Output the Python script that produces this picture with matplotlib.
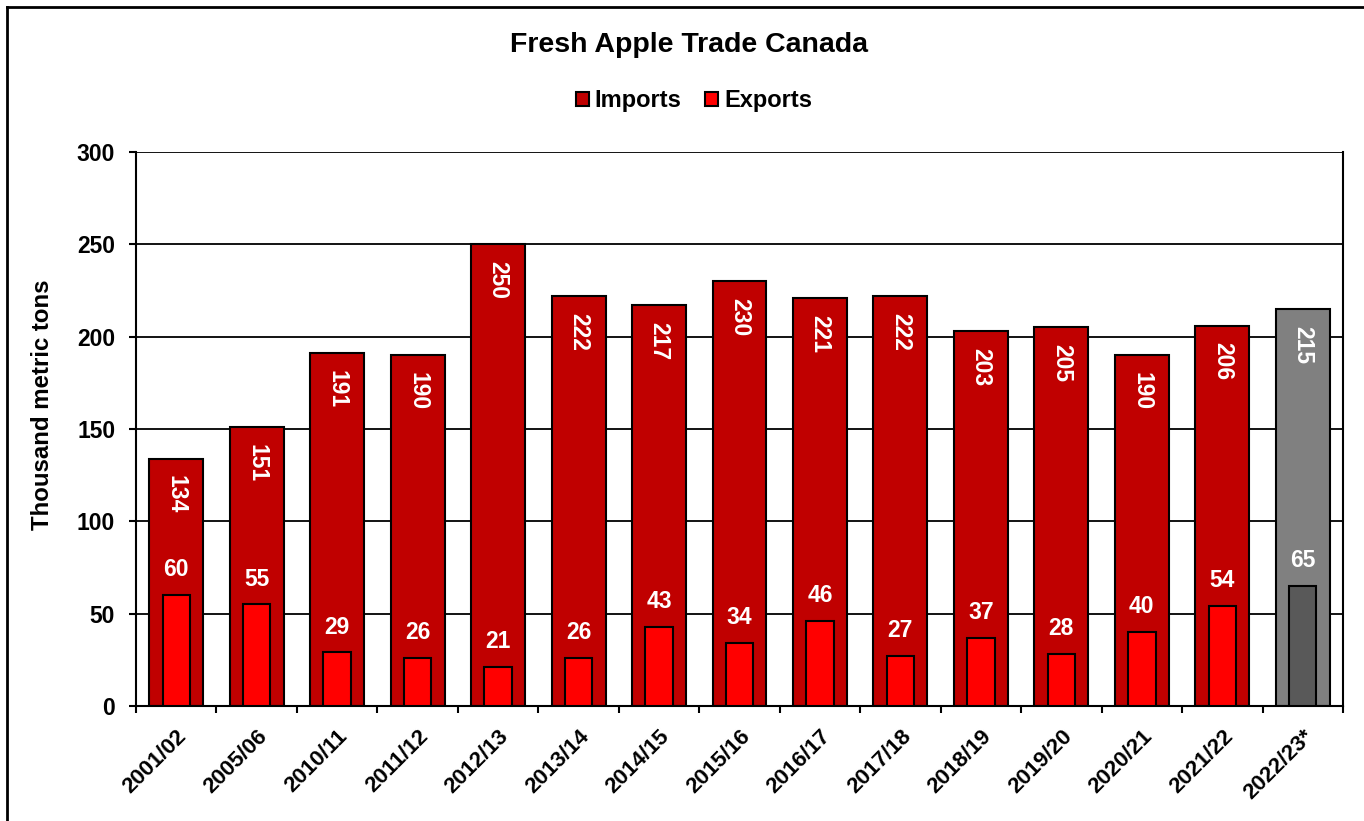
import numpy as np
import matplotlib.pyplot as plt
from matplotlib.patches import Rectangle
from matplotlib.lines import Line2D

plt.rcParams['font.family'] = ['Liberation Sans', 'DejaVu Sans']
plt.rcParams['font.weight'] = 'bold'

years = ['2001/02', '2005/06', '2010/11', '2011/12', '2012/13', '2013/14', '2014/15',
         '2015/16', '2016/17', '2017/18', '2018/19', '2019/20', '2020/21', '2021/22',
         '2022/23*']
imports = [134, 151, 191, 190, 250, 222, 217, 230, 221, 222, 203, 205, 190, 206, 215]
exports = [60, 55, 29, 26, 21, 26, 43, 34, 46, 27, 37, 28, 40, 54, 65]

# last season is a forecast, drawn in greys
imp_colors = ['#C00000'] * 14 + ['#808080']
exp_colors = ['#FF0000'] * 14 + ['#595959']

fig = plt.figure(figsize=(13.64, 8.21), dpi=100)
ax = fig.add_axes([136 / 1364, 1 - 706 / 821, (1343 - 136) / 1364, (706 - 152) / 821])

x = np.arange(len(years))
ax.bar(x, imports, width=0.67, color=imp_colors, edgecolor='black', linewidth=1.5, zorder=2)
ax.bar(x, exports, width=0.34, color=exp_colors, edgecolor='black', linewidth=1.5, zorder=3)

for i in range(len(years)):
    ax.annotate(str(imports[i]), (x[i], imports[i]), xytext=(0, -12), textcoords='offset points',
                ha='center', va='top', rotation=270, color='white', fontsize=16.5,
                fontweight='bold', zorder=4)
    ax.annotate(str(exports[i]), (x[i], exports[i]), xytext=(0, 10), textcoords='offset points',
                ha='center', va='bottom', color='white', fontsize=16.5,
                fontweight='bold', zorder=4)

ax.set_xlim(-0.5, len(years) - 0.5)
ax.set_ylim(0, 300)
ax.set_yticks(range(0, 301, 50))
ax.yaxis.grid(True, color='black', linewidth=1.3, zorder=0)
ax.set_axisbelow(True)
for s in ax.spines.values():
    s.set_linewidth(1.5)
ax.spines['top'].set_visible(False)

ax.set_xticks(x)
ax.set_xticklabels(years, rotation=45, ha='right', rotation_mode='anchor', fontsize=16)
ax.tick_params(axis='x', length=0, pad=14)
ax.set_xticks(np.arange(-0.5, len(years), 1), minor=True)
ax.tick_params(axis='x', which='minor', length=5, width=1.5, direction='out')
ax.tick_params(axis='y', labelsize=16.5, length=5, width=1.5, direction='out', pad=10)
ax.set_ylabel('Thousand metric tons', fontsize=17.3, fontweight='bold')
ax.yaxis.set_label_coords(-0.068, 0.543)

fig.text(689 / 1364, 1 - 45 / 821, 'Fresh Apple Trade Canada', ha='center', va='center',
         fontsize=20.5, fontweight='bold')

handles = [Rectangle((0, 0), 1, 1, facecolor='#C00000', edgecolor='black', linewidth=1.5),
           Rectangle((0, 0), 1, 1, facecolor='#FF0000', edgecolor='black', linewidth=1.5)]
fig.legend(handles, ['Imports', 'Exports'], loc='center', bbox_to_anchor=(694 / 1364, 1 - 101 / 821),
           ncol=2, frameon=False, fontsize=17, handlelength=0.55, handleheight=0.55,
           handletextpad=0.25, columnspacing=1.0, borderpad=0)

# frame around the whole chart
fig.add_artist(Line2D([7 / 1364, 7 / 1364], [0, 1 - 7 / 821], transform=fig.transFigure,
                      color='black', linewidth=2))
fig.add_artist(Line2D([7 / 1364, 1], [1 - 7 / 821, 1 - 7 / 821], transform=fig.transFigure,
                      color='black', linewidth=2))

fig.savefig('out.png', dpi=100)
